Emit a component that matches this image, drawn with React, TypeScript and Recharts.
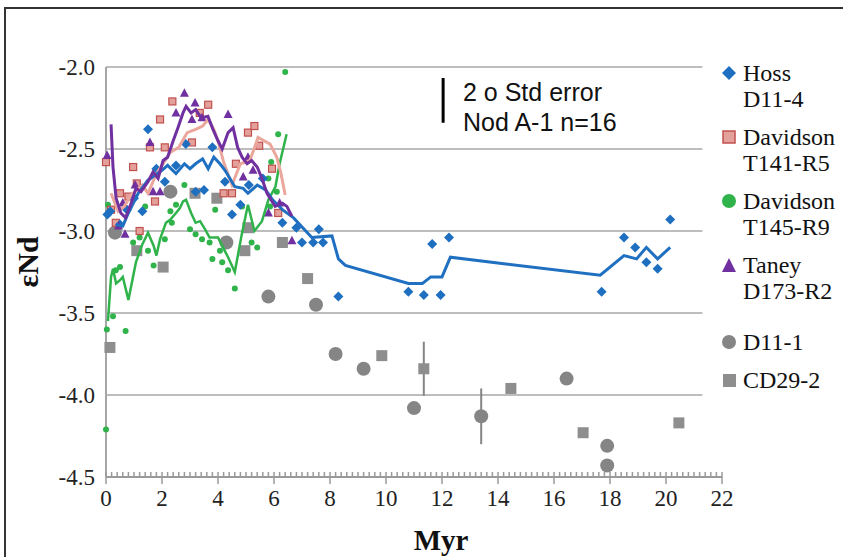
import React from 'react';
import { ScatterChart, Scatter, XAxis, YAxis, ReferenceLine, ErrorBar } from 'recharts';

type Pt = [number, number];
type ErrPt = [number, number, number];

const xTickLabels = [0, 2, 4, 6, 8, 10, 12, 14, 16, 18, 20, 22];
const yTickLabels = [-4.5, -4.0, -3.5, -3.0, -2.5, -2.0];
const gridLevels = [-4.0, -3.5, -3.0, -2.5, -2.0];

// Hoss D11-4
const hossPoints: Pt[] = [
  [0.05, -2.9], [0.15, -2.88], [0.5, -2.96], [0.75, -2.87], [1.0, -2.8], [1.3, -2.88],
  [1.5, -2.38], [1.8, -2.62], [2.1, -2.7], [2.5, -2.6], [2.85, -2.47], [3.2, -2.76],
  [3.5, -2.75], [3.8, -2.49], [4.25, -2.7], [4.5, -2.9], [4.8, -2.84], [5.1, -2.72],
  [5.6, -2.68], [6.3, -2.95], [6.8, -2.98], [7.0, -3.07], [7.4, -3.07], [7.6, -2.99],
  [7.75, -3.07], [8.3, -3.4], [10.8, -3.37], [11.35, -3.39], [11.65, -3.08], [11.95, -3.39],
  [12.25, -3.04], [17.7, -3.37], [18.5, -3.04], [18.9, -3.1], [19.3, -3.19], [19.7, -3.23],
  [20.15, -2.93],
];
const hossLine: Pt[] = [
  [0.35, -2.96], [0.6, -2.97], [0.8, -2.89], [1.15, -2.77], [1.5, -2.69], [2.0, -2.63],
  [2.2, -2.6], [2.5, -2.65], [2.8, -2.59], [3.0, -2.62], [3.2, -2.59], [3.45, -2.56],
  [3.65, -2.62], [3.85, -2.55], [4.07, -2.59], [4.25, -2.63], [4.6, -2.73], [4.9, -2.74],
  [5.07, -2.77], [5.4, -2.72], [5.7, -2.75], [5.95, -2.81], [6.3, -2.87], [6.7, -2.92],
  [7.35, -3.04], [8.07, -3.03], [8.3, -3.17], [8.55, -3.21], [10.8, -3.32], [11.3, -3.32],
  [11.6, -3.28], [12.0, -3.28], [12.3, -3.16], [17.65, -3.27], [18.5, -3.15], [18.95, -3.17],
  [19.3, -3.1], [19.7, -3.17], [20.15, -3.1],
];

// Davidson T141-R5
const t141Points: Pt[] = [
  [0.0, -2.58], [0.18, -2.87], [0.35, -2.95], [0.5, -2.77], [0.8, -2.79], [0.97, -2.61],
  [1.1, -2.71], [1.2, -3.0], [1.57, -2.49], [1.75, -2.82], [1.93, -2.32], [2.1, -2.49],
  [2.37, -2.21], [3.07, -2.46], [3.35, -2.28], [3.65, -2.23], [4.2, -2.77], [4.5, -2.77],
  [4.64, -2.59], [5.07, -2.4], [5.3, -2.36], [5.47, -2.48], [5.93, -2.62], [6.15, -2.89],
];
const t141Line: Pt[] = [
  [0.18, -2.77], [0.43, -2.88], [0.65, -2.85], [0.9, -2.78], [1.3, -2.72], [1.5, -2.77],
  [1.8, -2.65], [2.0, -2.6], [2.3, -2.52], [2.6, -2.49], [2.9, -2.4], [3.2, -2.38],
  [3.45, -2.36], [3.65, -2.32], [3.85, -2.38], [4.0, -2.45], [4.2, -2.58], [4.5, -2.72],
  [4.8, -2.59], [5.14, -2.57], [5.43, -2.43], [5.86, -2.47], [6.1, -2.55], [6.25, -2.65],
  [6.4, -2.78],
];

// Davidson T145-R9
const t145Points: Pt[] = [
  [0.0, -4.21], [0.03, -3.6], [0.07, -2.84], [0.25, -3.52], [0.35, -3.24], [0.5, -3.22],
  [0.7, -3.61], [0.97, -3.07], [1.2, -3.04], [1.4, -2.85], [1.5, -3.12], [1.7, -3.21],
  [2.1, -3.05], [2.3, -2.88], [2.35, -2.95], [2.5, -2.84], [2.8, -2.72], [3.0, -2.99],
  [3.2, -3.02], [3.43, -3.05], [3.7, -3.07], [3.8, -3.17], [3.9, -2.87], [4.07, -3.12],
  [4.15, -3.19], [4.36, -3.24], [4.6, -3.35], [4.86, -2.85], [5.2, -3.07], [5.4, -3.1],
  [5.8, -2.68], [5.86, -2.85], [5.9, -2.58], [6.1, -2.76], [6.15, -2.41], [6.4, -2.03],
];
const t145Line: Pt[] = [
  [0.07, -3.55], [0.18, -3.28], [0.25, -3.23], [0.36, -3.32], [0.5, -3.3], [0.6, -3.28],
  [0.8, -3.42], [1.07, -3.19], [1.3, -3.08], [1.5, -3.01], [1.7, -3.09], [1.8, -3.15],
  [1.93, -3.05], [2.14, -2.95], [2.3, -2.93], [2.5, -2.89], [2.64, -2.86], [2.75, -2.82],
  [2.86, -2.81], [3.04, -2.89], [3.2, -2.95], [3.36, -2.94], [3.54, -2.99], [3.7, -3.04],
  [4.0, -3.04], [4.18, -3.1], [4.36, -3.16], [4.6, -3.25], [4.86, -3.01], [5.07, -2.84],
  [5.3, -3.0], [5.57, -2.94], [5.8, -2.81], [6.05, -2.73], [6.2, -2.59], [6.45, -2.41],
];

// Taney D173-R2
const taneyPoints: Pt[] = [
  [0.04, -2.54], [0.45, -2.97], [0.6, -2.83], [0.68, -3.02], [1.04, -2.72], [1.57, -2.46],
  [1.68, -2.76], [1.93, -2.76], [2.5, -2.28], [2.8, -2.16], [3.07, -2.32], [3.18, -2.22],
  [3.43, -2.31], [4.36, -2.29], [4.9, -2.67], [5.07, -2.55], [5.25, -2.63], [5.8, -2.89],
  [6.2, -2.83], [6.64, -3.06],
];
const taneyLine: Pt[] = [
  [0.18, -2.35], [0.25, -2.61], [0.36, -2.8], [0.53, -2.89], [0.7, -2.92], [0.9, -2.83],
  [1.07, -2.74], [1.25, -2.76], [1.5, -2.7], [1.68, -2.64], [1.86, -2.68], [2.04, -2.57],
  [2.2, -2.55], [2.4, -2.45], [2.57, -2.37], [2.75, -2.28], [2.86, -2.24], [3.04, -2.28],
  [3.2, -2.26], [3.4, -2.31], [3.64, -2.3], [3.82, -2.38], [4.0, -2.45], [4.15, -2.5],
  [4.36, -2.4], [4.54, -2.37], [4.7, -2.49], [4.86, -2.55], [5.04, -2.59], [5.2, -2.57],
  [5.4, -2.61], [5.57, -2.68], [5.75, -2.77], [6.04, -2.85], [6.3, -2.83], [6.46, -2.85],
  [6.64, -2.91],
];

// D11-1 and CD29-2 (third value = error)
const d111Points: ErrPt[] = [
  [0.32, -3.01, 0], [2.3, -2.76, 0], [4.3, -3.07, 0], [5.8, -3.4, 0], [7.5, -3.45, 0],
  [8.2, -3.75, 0], [9.2, -3.84, 0], [11.0, -4.08, 0], [13.4, -4.13, 0.17], [16.45, -3.9, 0],
  [17.9, -4.31, 0], [17.9, -4.43, 0],
];
const cd292Points: ErrPt[] = [
  [0.14, -3.71, 0], [1.1, -3.12, 0], [2.04, -3.22, 0], [3.18, -2.77, 0], [3.96, -2.8, 0],
  [4.96, -3.12, 0], [5.07, -2.98, 0], [6.3, -3.07, 0], [7.2, -3.29, 0], [9.85, -3.76, 0],
  [11.35, -3.84, 0.165], [14.46, -3.96, 0], [17.04, -4.23, 0], [20.46, -4.17, 0],
];

// minor ticks every 0.2 Myr, labels only on the xTickLabels values
const minorTicks = Array.from({ length: 111 }, (_, i) => Math.round(i * 2) / 10);

const rows = (pts: number[][]) => pts.map(([x, y, err]) => ({ x, y, err: err ?? 0 }));

const SERIF = 'Times New Roman, Liberation Serif, serif';
const BLUE = '#1f6fc1';
const PINK_FILL = '#e4a19c';
const PINK_EDGE = '#c0504d';
const PINK_LINE = '#eba79c';
const GREEN = '#2fb34a';
const PURPLE = '#7030a0';
const GRAY = '#858585';

const Diamond = ({ cx, cy }: any) => (
  <polygon points={`${cx},${cy - 5} ${cx + 5},${cy} ${cx},${cy + 5} ${cx - 5},${cy}`} fill={BLUE} />
);
const PinkSquare = ({ cx, cy }: any) => (
  <rect x={cx - 3.5} y={cy - 3.5} width={7} height={7} fill={PINK_FILL} stroke={PINK_EDGE} strokeWidth={1.2} />
);
const Dot = ({ cx, cy }: any) => <circle cx={cx} cy={cy} r={3} fill={GREEN} />;
const Triangle = ({ cx, cy }: any) => (
  <polygon points={`${cx},${cy - 5} ${cx + 4.5},${cy + 3.5} ${cx - 4.5},${cy + 3.5}`} fill={PURPLE} />
);
const GrayCircle = ({ cx, cy }: any) => <circle cx={cx} cy={cy} r={7} fill={GRAY} />;
const GraySquare = ({ cx, cy }: any) => (
  <rect x={cx - 5.5} y={cy - 5.5} width={11} height={11} fill="#8e8e8e" />
);
const NoDot = () => <g />;

const XTick = (props: any) => {
  const { x, y, payload } = props;
  const v = payload.value;
  const major = xTickLabels.some((t) => Math.abs(t - v) < 1e-6);
  if (!major) {
    return <line x1={x} x2={x} y1={y} y2={y - 5} stroke="#9a9a9a" strokeWidth={1.5} />;
  }
  return (
    <g>
      <line x1={x} x2={x} y1={y - 5} y2={y + 7} stroke="#9a9a9a" strokeWidth={1.5} />
      <text x={x} y={y + 29} textAnchor="middle" fill="#222" style={{ fontFamily: SERIF, fontSize: 23 }}>
        {Math.round(v)}
      </text>
    </g>
  );
};

const YTick = (props: any) => {
  const { x, y, payload } = props;
  return (
    <text x={x} y={y} dy={8} textAnchor="end" fill="#222" style={{ fontFamily: SERIF, fontSize: 23 }}>
      {payload.value.toFixed(1)}
    </text>
  );
};

const legendItems = [
  { lines: ['Hoss', 'D11-4'], icon: <svg width={16} height={16}><polygon points="8,1 15,8 8,15 1,8" fill={BLUE} /></svg> },
  { lines: ['Davidson', 'T141-R5'], icon: <svg width={16} height={16}><rect x={2} y={2} width={12} height={12} fill={PINK_FILL} stroke={PINK_EDGE} strokeWidth={1.5} /></svg> },
  { lines: ['Davidson', 'T145-R9'], icon: <svg width={16} height={16}><circle cx={8} cy={8} r={7} fill={GREEN} /></svg> },
  { lines: ['Taney', 'D173-R2'], icon: <svg width={16} height={16}><polygon points="8,1 15,15 1,15" fill={PURPLE} /></svg> },
  { lines: ['D11-1'], icon: <svg width={16} height={16}><circle cx={8} cy={8} r={7} fill={GRAY} /></svg> },
  { lines: ['CD29-2'], icon: <svg width={16} height={16}><rect x={2} y={2} width={13} height={13} fill="#8e8e8e" /></svg> },
];

export default function App() {
  return (
    <div style={{ position: 'fixed', left: 0, top: 0, width: 843, height: 557, background: '#fff', overflow: 'hidden' }}>
      <div style={{ position: 'absolute', left: 4, top: 7, width: 850, height: 560, borderLeft: '2px solid #333', borderTop: '2px solid #333' }} />
      <div style={{ position: 'absolute', left: 0, top: 0 }}>
        <ScatterChart width={843} height={557} margin={{ top: 67, right: 121, bottom: 40, left: 0 }}>
          <XAxis
            dataKey="x"
            type="number"
            domain={[0, 22]}
            ticks={minorTicks}
            interval={0}
            tickSize={0}
            tickMargin={0}
            tick={<XTick />}
            tickLine={false}
            axisLine={{ stroke: '#9a9a9a', strokeWidth: 2 }}
            height={40}
          />
          <YAxis
            dataKey="y"
            type="number"
            domain={[-4.5, -2.0]}
            ticks={yTickLabels}
            interval={0}
            tickLine={false}
            tickSize={0}
            tickMargin={11}
            axisLine={{ stroke: '#a6a6a6', strokeWidth: 2 }}
            tick={<YTick />}
            width={106}
          />
          {gridLevels.map((g) => (
            <ReferenceLine key={g} segment={[{ x: 0, y: g }, { x: 21.3, y: g }]} stroke="#bdbdbd" strokeWidth={2} />
          ))}
          <ReferenceLine segment={[{ x: 12.04, y: -2.067 }, { x: 12.04, y: -2.34 }]} stroke="#000" strokeWidth={3} />

          <Scatter data={rows(d111Points)} shape={GrayCircle} isAnimationActive={false}>
            <ErrorBar dataKey="err" direction="y" width={0} stroke={GRAY} strokeWidth={2} />
          </Scatter>
          <Scatter data={rows(cd292Points)} shape={GraySquare} isAnimationActive={false}>
            <ErrorBar dataKey="err" direction="y" width={0} stroke={GRAY} strokeWidth={2} />
          </Scatter>
          <Scatter data={rows(t145Points)} shape={Dot} isAnimationActive={false} />
          <Scatter data={rows(t141Points)} shape={PinkSquare} isAnimationActive={false} />
          <Scatter data={rows(hossPoints)} shape={Diamond} isAnimationActive={false} />
          <Scatter data={rows(taneyPoints)} shape={Triangle} isAnimationActive={false} />

          <Scatter data={rows(t145Line)} shape={NoDot} line={{ stroke: GREEN, strokeWidth: 2.5 }} isAnimationActive={false} />
          <Scatter data={rows(t141Line)} shape={NoDot} line={{ stroke: PINK_LINE, strokeWidth: 3 }} isAnimationActive={false} />
          <Scatter data={rows(hossLine)} shape={NoDot} line={{ stroke: '#2070c2', strokeWidth: 3 }} isAnimationActive={false} />
          <Scatter data={rows(taneyLine)} shape={NoDot} line={{ stroke: PURPLE, strokeWidth: 3 }} isAnimationActive={false} />
        </ScatterChart>
      </div>

      <div style={{ position: 'absolute', left: 463, top: 77, fontFamily: 'Liberation Sans, Arial, sans-serif', fontSize: 25, lineHeight: '30px', color: '#111' }}>
        <div>2 o Std error</div>
        <div>Nod A-1 n=16</div>
      </div>

      <div style={{ position: 'absolute', left: 28, top: 262, transform: 'translate(-50%, -50%) rotate(-90deg)', fontFamily: SERIF, fontWeight: 'bold', fontSize: 30, whiteSpace: 'nowrap', color: '#111' }}>
        εNd
      </div>
      <div style={{ position: 'absolute', left: 441, top: 540, transform: 'translate(-50%, -50%)', fontFamily: SERIF, fontWeight: 'bold', fontSize: 29, color: '#111' }}>
        Myr
      </div>

      <div style={{ position: 'absolute', left: 721, top: 60, fontFamily: SERIF, fontSize: 24, lineHeight: '26px', color: '#111' }}>
        {legendItems.map((item, i) => (
          <div key={i} style={{ display: 'flex', alignItems: 'flex-start', marginTop: i === 0 ? 0 : i === 4 ? 25 : 12 }}>
            <div style={{ width: 22, height: 26, display: 'flex', alignItems: 'center' }}>{item.icon}</div>
            <div style={{ whiteSpace: 'nowrap' }}>
              {item.lines.map((l) => <div key={l}>{l}</div>)}
            </div>
          </div>
        ))}
      </div>
    </div>
  );
}
